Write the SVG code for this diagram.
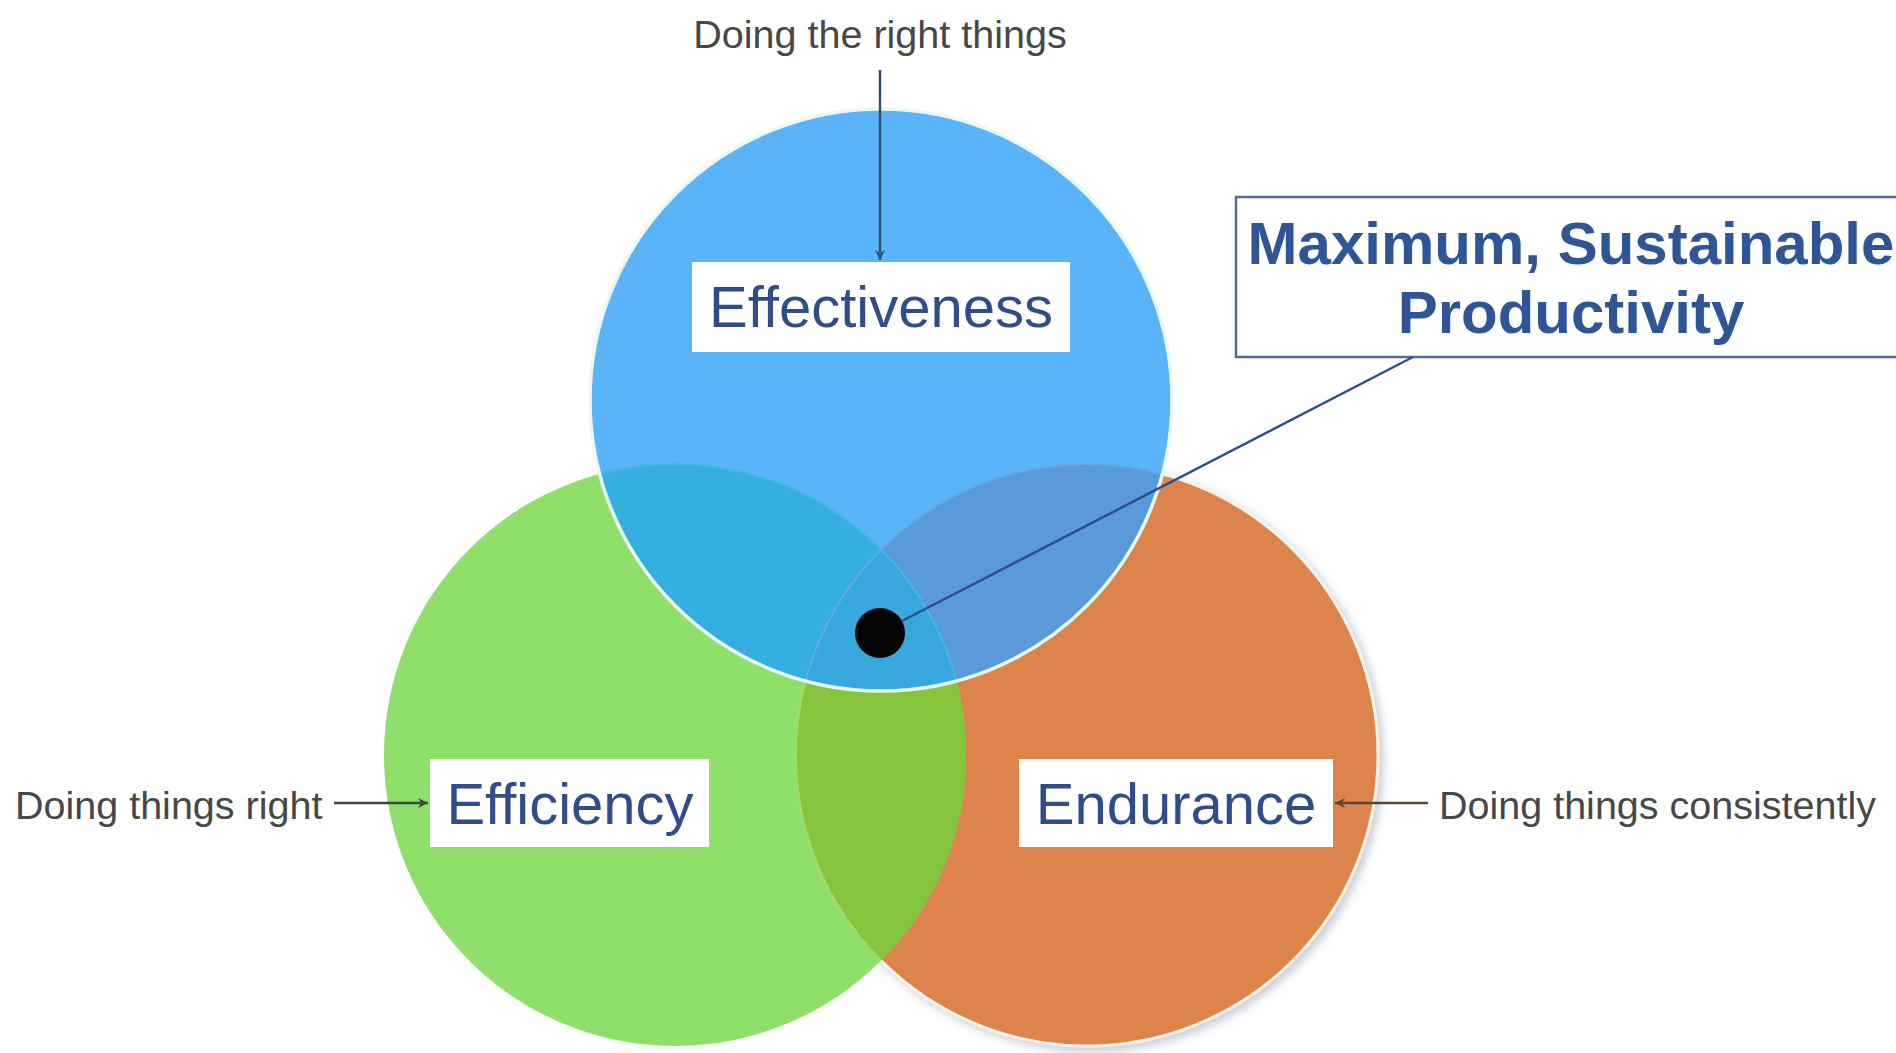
<svg xmlns="http://www.w3.org/2000/svg" width="1896" height="1053" viewBox="0 0 1896 1053">
  <style>
    .note { font-family: "Liberation Sans", Arial, sans-serif; font-size: 39.5px; fill: #474747; }
    .label { font-family: "Liberation Sans", Arial, sans-serif; font-size: 58px; fill: #2f4c8c; text-anchor: middle; }
    .title { font-family: "Liberation Sans", Arial, sans-serif; font-size: 60px; font-weight: bold; fill: #2e5597; text-anchor: middle; }
    .lbox { fill: #ffffff; }
    .arrow { fill: none; stroke-width: 2.5; }
  </style>
  <defs>
    <circle id="cB" cx="881" cy="400" r="291"/>
    <circle id="cG" cx="675" cy="755" r="291"/>
    <circle id="cO" cx="1087" cy="755" r="291"/>
    <clipPath id="clipB"><use href="#cB"/></clipPath>
    <clipPath id="clipG"><use href="#cG"/></clipPath>
    <clipPath id="clipO"><use href="#cO"/></clipPath>
    <filter id="shadow" x="-10%" y="-10%" width="125%" height="125%">
      <feGaussianBlur in="SourceAlpha" stdDeviation="5"/>
      <feOffset dx="4" dy="4" result="b"/>
      <feFlood flood-color="#8090a8" flood-opacity="0.45"/>
      <feComposite in2="b" operator="in"/>
      <feMerge><feMergeNode/><feMergeNode in="SourceGraphic"/></feMerge>
    </filter>
    <marker id="head-top" viewBox="0 0 12 12" refX="11" refY="6" markerWidth="12" markerHeight="12" markerUnits="userSpaceOnUse" orient="auto">
      <path d="M1,1 L11,6 L1,11 L4,6 Z" fill="#34506e"/>
    </marker>
    <marker id="head-left" viewBox="0 0 12 12" refX="11" refY="6" markerWidth="12" markerHeight="12" markerUnits="userSpaceOnUse" orient="auto">
      <path d="M1,1 L11,6 L1,11 L4,6 Z" fill="#3a4d3a"/>
    </marker>
    <marker id="head-right" viewBox="0 0 12 12" refX="11" refY="6" markerWidth="12" markerHeight="12" markerUnits="userSpaceOnUse" orient="auto">
      <path d="M1,1 L11,6 L1,11 L4,6 Z" fill="#5a4538"/>
    </marker>
  </defs>

  <rect x="0" y="0" width="1896" height="1053" fill="#ffffff"/>

  <!-- Endurance circle (bottom right) -->
  <g id="node-endurance-circle">
    <use href="#cO" fill="#dc844c" stroke="#fbf3ea" stroke-width="3" filter="url(#shadow)"/>
  </g>

  <!-- Efficiency circle (bottom left) -->
  <g id="node-efficiency-circle">
    <use href="#cG" fill="#8ee06a"/>
  </g>

  <!-- Efficiency / Endurance overlap -->
  <g id="overlap-green-orange" clip-path="url(#clipG)">
    <use href="#cO" fill="#86c43c" stroke="#a6d86a" stroke-width="2"/>
  </g>

  <!-- Effectiveness circle (top) with its overlaps -->
  <g id="node-effectiveness-circle">
    <use href="#cB" fill="#5ab4fa"/>
    <g clip-path="url(#clipB)">
      <use href="#cG" fill="#35aee0"/>
      <use href="#cO" fill="#5a9ad8"/>
      <g clip-path="url(#clipO)">
        <use href="#cG" fill="#37a8de"/>
      </g>
      <use href="#cG" fill="none" stroke="#45b6e6" stroke-width="2"/>
      <use href="#cO" fill="none" stroke="#62abe8" stroke-width="2"/>
    </g>
    <use href="#cB" fill="none" stroke="#eaf8f4" stroke-width="3.5"/>
  </g>

  <!-- Centre marker -->
  <g id="node-centre">
    <circle cx="880" cy="633" r="25" fill="#050505"/>
  </g>

  <!-- Circle labels -->
  <g id="node-effectiveness">
    <rect class="lbox" x="692" y="262" width="378" height="90"/>
    <text class="label" x="881" y="327">Effectiveness</text>
  </g>
  <g id="node-efficiency">
    <rect class="lbox" x="430" y="759" width="279" height="88"/>
    <text class="label" x="570" y="824">Efficiency</text>
  </g>
  <g id="node-endurance">
    <rect class="lbox" x="1019" y="759" width="314" height="88"/>
    <text class="label" x="1176" y="824">Endurance</text>
  </g>

  <!-- Callout box -->
  <g id="node-productivity">
    <rect x="1236" y="197" width="680" height="160" fill="#ffffff" stroke="#4f6d8f" stroke-width="2.5"/>
    <text class="title" x="1571" y="264">Maximum, Sustainable</text>
    <text class="title" x="1571" y="333">Productivity</text>
  </g>

  <!-- Side notes -->
  <g id="node-note-top">
    <text class="note" x="880" y="48" text-anchor="middle">Doing the right things</text>
  </g>
  <g id="node-note-left">
    <text class="note" x="15" y="819">Doing things right</text>
  </g>
  <g id="node-note-right">
    <text class="note" x="1439" y="819">Doing things consistently</text>
  </g>

  <!-- Connectors -->
  <g id="connectors">
    <line class="arrow" x1="880" y1="70" x2="880" y2="260" stroke="#34506e" marker-end="url(#head-top)"/>
    <line class="arrow" x1="334" y1="803" x2="428" y2="803" stroke="#3a4d3a" marker-end="url(#head-left)"/>
    <line class="arrow" x1="1428" y1="803" x2="1335" y2="803" stroke="#5a4538" marker-end="url(#head-right)"/>
    <line x1="902" y1="621" x2="1413" y2="357" stroke="#2f4f8a" stroke-width="2.5"/>
  </g>
</svg>
